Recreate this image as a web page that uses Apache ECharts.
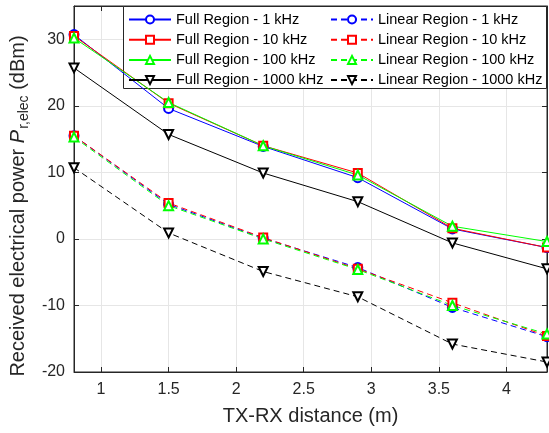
<!DOCTYPE html>
<html>
<head>
<meta charset="utf-8">
<script src="https://cdn.jsdelivr.net/npm/echarts@6/dist/echarts.min.js"></script>
<style>
  html, body { margin: 0; padding: 0; background: #fff; }
  #chart { width: 549px; height: 433px; }
</style>
</head>
<body>
<div id="chart"></div>
<script>
const distance = [0.8, 1.5, 2.2, 2.9, 3.6, 4.3]

const full1k = [30.7, 19.6, 13.9, 9.2, 1.5, -1.3]
const full10k = [30.5, 20.4, 14.0, 9.9, 1.6, -1.3]
const full100k = [30.2, 20.5, 14.0, 9.6, 1.9, -0.4]
const full1000k = [25.7, 15.7, 9.9, 5.6, -0.6, -4.5]

const lin1k = [15.5, 5.2, 0.1, -4.3, -10.3, -14.7]
const lin10k = [15.5, 5.4, 0.2, -4.5, -9.6, -14.6]
const lin100k = [15.3, 5.0, 0.0, -4.6, -10.0, -14.3]
const lin1000k = [10.7, 0.9, -4.9, -8.7, -15.8, -18.5]

const fontFamily = '"Liberation Sans", Arial, sans-serif'
const textColor = '#262626'

function pairs(ys) {
  return distance.map((x, i) => [x, ys[i]])
}

function makeSeries(name, ys, color, symbol, dashed) {
  return {
    name: name,
    type: 'line',
    data: pairs(ys),
    symbol: symbol,
    symbolSize: symbol === 'emptyRect' ? 8 : 9,
    symbolRotate: name.indexOf('1000') >= 0 ? 180 : 0,
    showAllSymbol: true,
    lineStyle: { color: color, width: 1, type: dashed ? [6, 4] : 'solid' },
    itemStyle: { color: color, borderColor: color, borderWidth: 1 },
    emphasis: { disabled: true },
    animation: false
  }
}

const series = [
  makeSeries('Full Region - 1 kHz', full1k, '#0000ff', 'emptyCircle', false),
  makeSeries('Full Region - 10 kHz', full10k, '#ff0000', 'emptyRect', false),
  makeSeries('Full Region - 100 kHz', full100k, '#00ff00', 'emptyTriangle', false),
  makeSeries('Full Region - 1000 kHz', full1000k, '#000000', 'emptyTriangle', false),
  makeSeries('Linear Region - 1 kHz', lin1k, '#0000ff', 'emptyCircle', true),
  makeSeries('Linear Region - 10 kHz', lin10k, '#ff0000', 'emptyRect', true),
  makeSeries('Linear Region - 100 kHz', lin100k, '#00ff00', 'emptyTriangle', true),
  makeSeries('Linear Region - 1000 kHz', lin1000k, '#000000', 'emptyTriangle', true)
]

const legendBase = {
  orient: 'vertical',
  top: 12,
  padding: 0,
  itemWidth: 42,
  itemHeight: 10,
  itemGap: 5.2,
  textStyle: { fontFamily: fontFamily, fontSize: 14.5, color: '#000' },
  selectedMode: false
}

const chart = echarts.init(document.getElementById('chart'))
chart.setOption({
  backgroundColor: '#fff',
  animation: false,
  grid: { left: 74, right: 2, top: 6, bottom: 61, show: true, borderColor: textColor, borderWidth: 1 },
  legend: [
    Object.assign({}, legendBase, {
      left: 128,
      data: series.slice(0, 4).map((s) => s.name)
    }),
    Object.assign({}, legendBase, {
      left: 330,
      data: series.slice(4).map((s) => s.name)
    })
  ],
  graphic: [
    {
      type: 'rect',
      shape: { x: 123.5, y: 6.5, width: 423, height: 82 },
      style: { fill: '#fff', stroke: textColor, lineWidth: 1 },
      z: 3
    },
    {
      type: 'text',
      x: 18,
      y: 206,
      rotation: Math.PI / 2,
      style: {
        text: '{n|Received electrical power }{p|P}{s|r,elec}{n| (dBm)}',
        align: 'center',
        verticalAlign: 'middle',
        rich: {
          n: { fontFamily: fontFamily, fontSize: 20, fill: textColor },
          p: { fontFamily: fontFamily, fontSize: 20, fontStyle: 'italic', fill: textColor },
          s: { fontFamily: fontFamily, fontSize: 14, fill: textColor, padding: [12, 0, 0, 1] }
        }
      }
    }
  ],
  xAxis: [
    {
      type: 'value',
      min: 0.8,
      max: 4.3,
      splitNumber: 7,
      name: 'TX-RX distance (m)',
      nameLocation: 'middle',
      nameGap: 34,
      nameTextStyle: { fontFamily: fontFamily, fontSize: 20, color: textColor },
      axisLine: { show: true, onZero: false, lineStyle: { color: textColor } },
      axisTick: { show: true, inside: true, length: 5, lineStyle: { color: textColor } },
      axisLabel: { fontFamily: fontFamily, fontSize: 16, color: textColor, margin: 10, showMinLabel: false, showMaxLabel: false },
      splitLine: { show: true, lineStyle: { color: '#e6e6e6' } }
    },
    {
      type: 'value',
      position: 'top',
      min: 0.8,
      max: 4.3,
      splitNumber: 7,
      axisLine: { show: true, onZero: false, lineStyle: { color: textColor } },
      axisTick: { show: true, inside: true, length: 5, lineStyle: { color: textColor } },
      axisLabel: { show: false },
      splitLine: { show: false }
    }
  ],
  yAxis: [
    {
      type: 'value',
      min: -20,
      max: 35,
      interval: 10,
      axisLine: { show: true, onZero: false, lineStyle: { color: textColor } },
      axisTick: { show: true, inside: true, length: 5, lineStyle: { color: textColor } },
      axisLabel: { fontFamily: fontFamily, fontSize: 16, color: textColor, margin: 9, showMaxLabel: false },
      splitLine: { show: true, lineStyle: { color: '#e6e6e6' } }
    },
    {
      type: 'value',
      position: 'right',
      min: -20,
      max: 35,
      interval: 10,
      axisLine: { show: true, onZero: false, lineStyle: { color: textColor } },
      axisTick: { show: true, inside: true, length: 5, lineStyle: { color: textColor } },
      axisLabel: { show: false },
      splitLine: { show: false }
    }
  ],
  series: series
})
</script>
</body>
</html>
